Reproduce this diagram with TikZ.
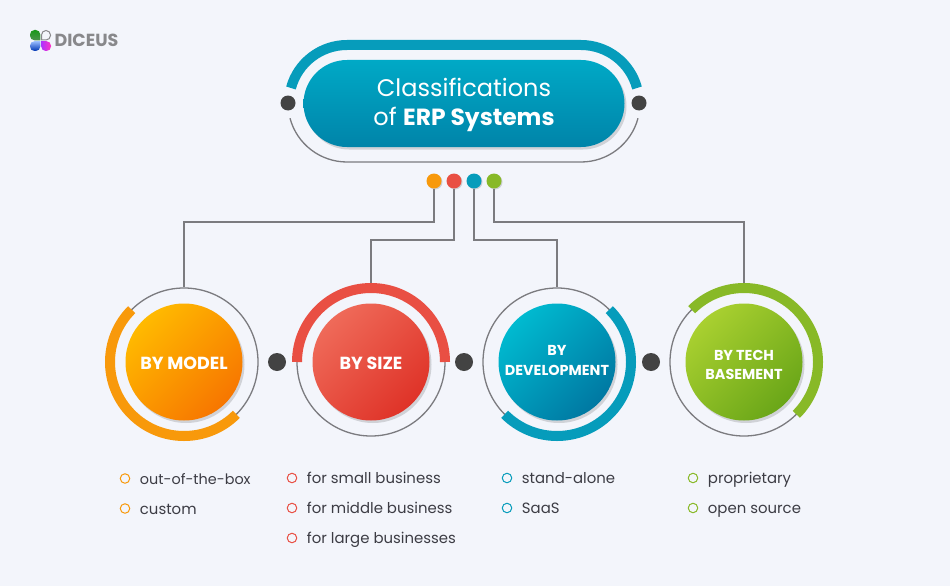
\documentclass[tikz,border=0pt]{standalone}
\usepackage{fontspec}
\setmainfont{Poppins}
\usetikzlibrary{positioning,shadows}
\definecolor{pagebg}{HTML}{F3F5FB}
\definecolor{darkdot}{HTML}{434343}
\definecolor{wiregray}{HTML}{7B7B7F}
\definecolor{listink}{HTML}{3C3C44}
\definecolor{logogray}{HTML}{88888B}
\definecolor{orangeband}{HTML}{F8990B}
\definecolor{redband}{HTML}{E94F43}
\definecolor{blueband}{HTML}{069CBB}
\definecolor{greenband}{HTML}{88B927}
\definecolor{orangelight}{HTML}{FFBA00}
\definecolor{orangedeep}{HTML}{F77600}
\definecolor{redlight}{HTML}{EF6A59}
\definecolor{reddeep}{HTML}{DF3328}
\definecolor{bluelight}{HTML}{00BAD0}
\definecolor{bluedeep}{HTML}{0078A2}
\definecolor{greenlight}{HTML}{A9D030}
\definecolor{greendeep}{HTML}{6AA618}
\definecolor{pilltop}{HTML}{00A9C6}
\definecolor{pillbottom}{HTML}{0084A9}
\begin{document}
\begin{tikzpicture}[
        x=1pt, y=-1pt,
        softshadow/.style={drop shadow={shadow xshift=2pt, shadow yshift=-2.5pt, opacity=0.14, fill=black}},
        disc/.style={circle, minimum size=117pt, inner sep=0pt, softshadow},
        ring/.style={circle, draw=wiregray, line width=1.3pt, minimum size=148pt, inner sep=0pt},
        disclabel/.style={text=white, font=\fontsize{17.5}{20}\selectfont\bfseries, align=center, inner sep=0pt},
        smalllabel/.style={disclabel, font=\fontsize{14.4}{19.5}\selectfont\bfseries},
        gapdot/.style={circle, fill=darkdot, minimum size=#1, inner sep=0pt},
        colordot/.style={circle, fill=#1, minimum size=15pt, inner sep=0pt, drop shadow={shadow xshift=1pt, shadow yshift=-1pt, opacity=0.15, fill=black}},
        bullet/.style={circle, draw=#1, line width=1pt, minimum size=9.5pt, inner sep=0pt},
        listitem/.style={text=listink, font=\fontsize{14.9}{16}\selectfont, inner sep=0pt, text height=12pt, text depth=2pt, right=9.5pt of #1},
        wire/.style={draw=wiregray, line width=1.5pt},
        band/.style={line width=10pt, draw=#1},
        thinband/.style={line width=1.3pt, draw=wiregray},
        petal/.style={rounded corners=4.5pt}
    ]
    \fill[pagebg] (0,0) rectangle (950,586);

    % Logo
    \shade[petal, top color=green!55!black!90, bottom color=green!40!black!70] (40.3,40.3) -- (30,40.3) -- (30,30) -- (40.3,30) [sharp corners] -- cycle;
    \draw[petal, draw=logogray, line width=1pt] (41.5,40) -- (41.5,30.5) -- (50.5,30.5) -- (50.5,40) [sharp corners] -- cycle;
    \shade[petal, top color=cyan!35!blue!40, bottom color=blue!70!cyan!70!black] (40.3,41.2) -- (40.3,51) -- (30,51) -- (30,41.2) [sharp corners] -- cycle;
    \shade[petal, left color=magenta!60!blue!80, right color=magenta!70!red!80] (41.2,41.2) -- (51,41.2) -- (51,51) -- (41.2,51) [sharp corners] -- cycle;
    \node (logotext) at (86.5,40.5) [text=logogray, font=\fontsize{17.5}{18}\selectfont\bfseries, inner sep=0pt] {DICEUS};

    % Title
    \draw[band=blueband] (347,103) ++(-165:58) arc[start angle=-165, end angle=-90, radius=58] -- (581,45) arc[start angle=-90, end angle=-15, radius=58];
    \draw[thinband] (347,103) ++(165:59) arc[start angle=165, end angle=90, radius=59] -- (581,162) arc[start angle=90, end angle=15, radius=59];
    \node (title) at (464,103.5) [rectangle, rounded corners=43.5pt, minimum width=321pt, minimum height=87pt, inner sep=0pt, top color=pilltop, bottom color=pillbottom, softshadow] {};
    \node (titlelabel) at (464,104.5) [text=white, align=center, inner sep=0pt, font=\fontsize{24}{29}\selectfont] {Classifications\\of {\fontsize{23.4}{29}\selectfont\bfseries ERP Systems}};
    \node (titleleft) at (288,103) [gapdot=15pt] {};
    \node (titleright) at (639,103) [gapdot=15pt] {};

    % Dots
    \node (dotmodel) at (434,181) [colordot=orangeband] {};
    \node (dotsize) at (454,181) [colordot=redband] {};
    \node (dotdev) at (474,181) [colordot=blueband] {};
    \node (dottech) at (494,181) [colordot=greenband] {};

    % Rings
    \node (ringmodel) at (184,362) [ring] {};
    \node (ringsize) at (371,362) [ring] {};
    \node (ringdev) at (557,362) [ring] {};
    \node (ringtech) at (744,362) [ring] {};

    % Arrows
    \draw[wire] (dotmodel.south) -- ++(0,33.5) -| (ringmodel.north);
    \draw[wire] (dotsize.south) -- ++(0,51.5) -| (ringsize.north);
    \draw[wire] (dotdev.south) -- ++(0,51.5) -| (ringdev.north);
    \draw[wire] (dottech.south) -- ++(0,33.5) -| (ringtech.north);

    % Bands
    \draw[band=orangeband] (ringmodel.center) ++(-135:74) arc[start angle=-135, end angle=-315, radius=74];
    \draw[band=redband] (ringsize.center) ++(-180:74) arc[start angle=-180, end angle=0, radius=74];
    \draw[band=blueband] (ringdev.center) ++(-45:74) arc[start angle=-45, end angle=135, radius=74];
    \draw[band=greenband] (ringtech.center) ++(-135:74) arc[start angle=-135, end angle=45, radius=74];

    % Discs
    \node (discmodel) at (184,362) [disc, left color=orangelight, right color=orangedeep, shading angle=45] {};
    \node (discsize) at (371,362) [disc, left color=redlight, right color=reddeep, shading angle=45] {};
    \node (discdev) at (557,362) [disc, left color=bluelight, right color=bluedeep, shading angle=45] {};
    \node (disctech) at (744,362) [disc, left color=greenlight, right color=greendeep, shading angle=45] {};
    \node (labelmodel) at (184,363) [disclabel] {BY MODEL};
    \node (labelsize) at (371,363) [disclabel] {BY SIZE};
    \node (labeldev) at (557,360.5) [smalllabel] {BY\\DEVELOPMENT};
    \node (labeltech) at (744,365) [smalllabel] {BY TECH\\BASEMENT};

    \node (gapa) at (277,362) [gapdot=18pt] {};
    \node (gapb) at (464,362) [gapdot=18pt] {};
    \node (gapc) at (651,362) [gapdot=18pt] {};

    % Lists
    \node (bulletmodela) at (125,478.5) [bullet=orangeband] {};
    \node (bulletmodelb) at (125,508.5) [bullet=orangeband] {};
    \node (bulletsizea) at (292,478) [bullet=redband] {};
    \node (bulletsizeb) at (292,508) [bullet=redband] {};
    \node (bulletsizec) at (292,538) [bullet=redband] {};
    \node (bulletdeva) at (507,478) [bullet=blueband] {};
    \node (bulletdevb) at (507,508) [bullet=blueband] {};
    \node (bullettecha) at (693,478) [bullet=greenband] {};
    \node (bullettechb) at (693,508) [bullet=greenband] {};

    \node [listitem=bulletmodela, font=\fontsize{14.4}{16}\selectfont, yshift=-0.5pt] {out-of-the-box};
    \node [listitem=bulletmodelb, yshift=-0.5pt] {custom};
    \node [listitem=bulletsizea] {for small business};
    \node [listitem=bulletsizeb] {for middle business};
    \node [listitem=bulletsizec] {for large businesses};
    \node [listitem=bulletdeva] {stand-alone};
    \node [listitem=bulletdevb] {SaaS};
    \node [listitem=bullettecha] {proprietary};
    \node [listitem=bullettechb] {open source};
\end{tikzpicture}
\end{document}
